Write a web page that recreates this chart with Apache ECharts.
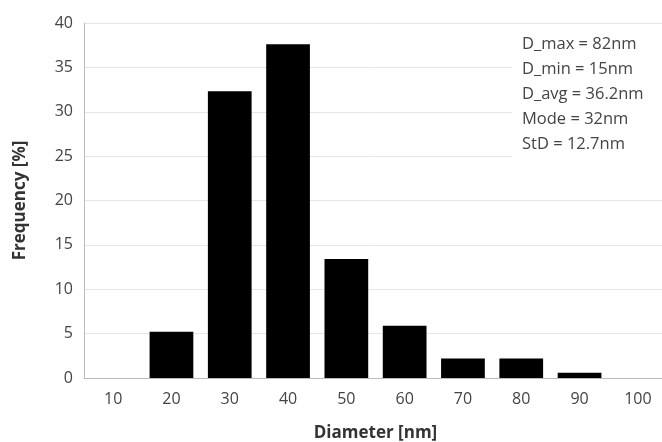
<!doctype html>
<html>
<head>
<meta charset="UTF-8">
<title></title>
<style>
	html, body { margin: 0; padding: 0; background: #fff; }
	#chart { width: 662px; height: 442px; }
</style>
</head>
<body>
<div id="chart"></div>
<script src="https://cdn.jsdelivr.net/npm/echarts@6/dist/echarts.min.js"></script>
<script>
// diameter bins (nm)
var categories = ['10', '20', '30', '40', '50', '60', '70', '80', '90', '100'];
// frequency in %
var frequency = [0, 5.2, 32.3, 37.6, 13.4, 5.9, 2.2, 2.2, 0.6, 0];
var yTicks = [0, 5, 10, 15, 20, 25, 30, 35, 40];
var statsLines = ['D_max = 82nm', 'D_min = 15nm', 'D_avg = 36.2nm', 'Mode = 32nm', 'StD = 12.7nm'];

var chart = echarts.init(document.getElementById('chart'));
var font = '"Open Sans", sans-serif';

var option = {
	animation: false,
	grid: { left: 84, top: 23, width: 583, height: 355, outerBoundsMode: 'none', containLabel: false },
	xAxis: {
		type: 'category',
		data: categories,
		name: 'Diameter [nm]',
		nameLocation: 'middle',
		nameGap: 47,
		nameTextStyle: { fontFamily: font, fontSize: 17, fontWeight: 'bold', color: '#333' },
		axisLine: { lineStyle: { color: '#bbb' } },
		axisTick: { show: false },
		axisLabel: { fontFamily: font, fontSize: 16, color: '#444', margin: 13 }
	},
	yAxis: {
		type: 'value',
		min: yTicks[0],
		max: yTicks[yTicks.length - 1],
		interval: 5,
		name: 'Frequency [%]',
		nameLocation: 'middle',
		nameGap: 55,
		nameTextStyle: { fontFamily: font, fontSize: 17, fontWeight: 'bold', color: '#333' },
		axisLine: { show: true, lineStyle: { color: '#bbb' } },
		axisTick: { show: false },
		axisLabel: { fontFamily: font, fontSize: 16, color: '#444', margin: 11 },
		splitLine: { lineStyle: { color: '#e6e6e6' } }
	},
	graphic: [{
		// white box behind the stats, hides the gridlines there
		type: 'rect',
		left: 512,
		top: 30,
		shape: { width: 150, height: 130 },
		style: { fill: '#fff' },
		z: 10
	}, {
		type: 'text',
		left: 522,
		top: 32,
		style: {
			text: statsLines.join('\n'),
			font: '16.5px "Open Sans", sans-serif',
			lineHeight: 25,
			fill: '#444'
		},
		z: 11
	}],
	series: [{
		type: 'bar',
		data: frequency,
		barWidth: '75%',
		itemStyle: { color: '#000' }
	}]
};
chart.setOption(option);
</script>
</body>
</html>
